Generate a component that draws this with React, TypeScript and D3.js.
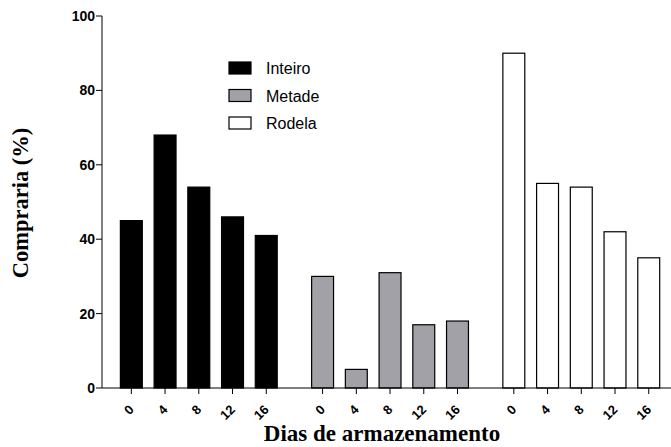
import React from "react";
import * as d3 from "d3";

// storage days (shared by all three groups)
const days = ["0", "4", "8", "12", "16"];
const groups = ["Inteiro", "Metade", "Rodela"];
const groupFills = ["#000000", "#a2a1a7", "#ffffff"];

// % who would buy, per group
const inteiro = [45, 68, 54, 46, 41];
const metade = [30, 5, 31, 17, 18];
const rodela = [90, 55, 54, 42, 35];

const yTicks = [0, 20, 40, 60, 80, 100];

const W = 671;
const H = 447;
const GAP = 0.67; // extra space between groups, in slot units

const App: React.FC = () => {
  const series = [inteiro, metade, rodela];

  const x = d3.scaleLinear().domain([-0.87, 16]).range([102, 671]);
  const y = d3.scaleLinear().domain([0, 100]).range([388, 16]);
  const slot = (g: number, i: number) => g * (5 + GAP) + i;
  const barW = x(0.65) - x(0);

  const bold = "Arial, 'Liberation Sans', Helvetica, sans-serif";
  const serif = "'Times New Roman', 'Liberation Serif', Times, serif";

  return (
    <svg
      width={W}
      height={H}
      style={{ position: "absolute", left: 0, top: 0, background: "#fff" }}
    >
      {/* bars */}
      {series.map((vals, g) =>
        vals.map((v, i) => (
          <rect
            key={`${g}-${i}`}
            x={x(slot(g, i)) - barW / 2}
            y={y(v)}
            width={barW}
            height={y(0) - y(v)}
            fill={groupFills[g]}
            stroke="#000"
            strokeWidth={1.2}
          />
        ))
      )}

      {/* y axis */}
      <line x1={102} x2={102} y1={y(100)} y2={y(0)} stroke="#000" strokeWidth={1} />
      {yTicks.map((t) => (
        <g key={t}>
          <line x1={96} x2={102} y1={y(t)} y2={y(t)} stroke="#000" />
          <text
            x={95}
            y={y(t)}
            dy="0.36em"
            textAnchor="end"
            fontFamily={bold}
            fontWeight="bold"
            fontSize={14}
          >
            {t}
          </text>
        </g>
      ))}

      {/* x axis */}
      <line x1={102} x2={W} y1={y(0)} y2={y(0)} stroke="#000" strokeWidth={1} />
      {groups.map((_, g) =>
        days.map((d, i) => {
          const cx = x(slot(g, i));
          return (
            <g key={`t${g}-${i}`}>
              <line x1={cx} x2={cx} y1={y(0)} y2={y(0) + 6} stroke="#000" />
              <text
                transform={`translate(${cx},${y(0) + 19}) rotate(-45)`}
                dy="0.36em"
                textAnchor="end"
                fontFamily={bold}
                fontWeight="bold"
                fontSize={13}
              >
                {d}
              </text>
            </g>
          );
        })
      )}

      {/* legend */}
      {groups.map((name, g) => (
        <g key={name} transform={`translate(229,${62 + g * 27.5})`}>
          <rect
            x={0}
            y={0}
            width={22}
            height={12}
            fill={groupFills[g]}
            stroke="#000"
            strokeWidth={1.2}
          />
          <text x={37} y={12} fontFamily={bold} fontSize={16}>
            {name}
          </text>
        </g>
      ))}

      {/* axis titles */}
      <text
        transform={`translate(28,203) rotate(-90)`}
        textAnchor="middle"
        fontFamily={serif}
        fontWeight="bold"
        fontSize={22.5}
      >
        Compraria (%)
      </text>
      <text
        x={382}
        y={441}
        textAnchor="middle"
        fontFamily={serif}
        fontWeight="bold"
        fontSize={23}
      >
        Dias de armazenamento
      </text>
    </svg>
  );
};

export default App;
